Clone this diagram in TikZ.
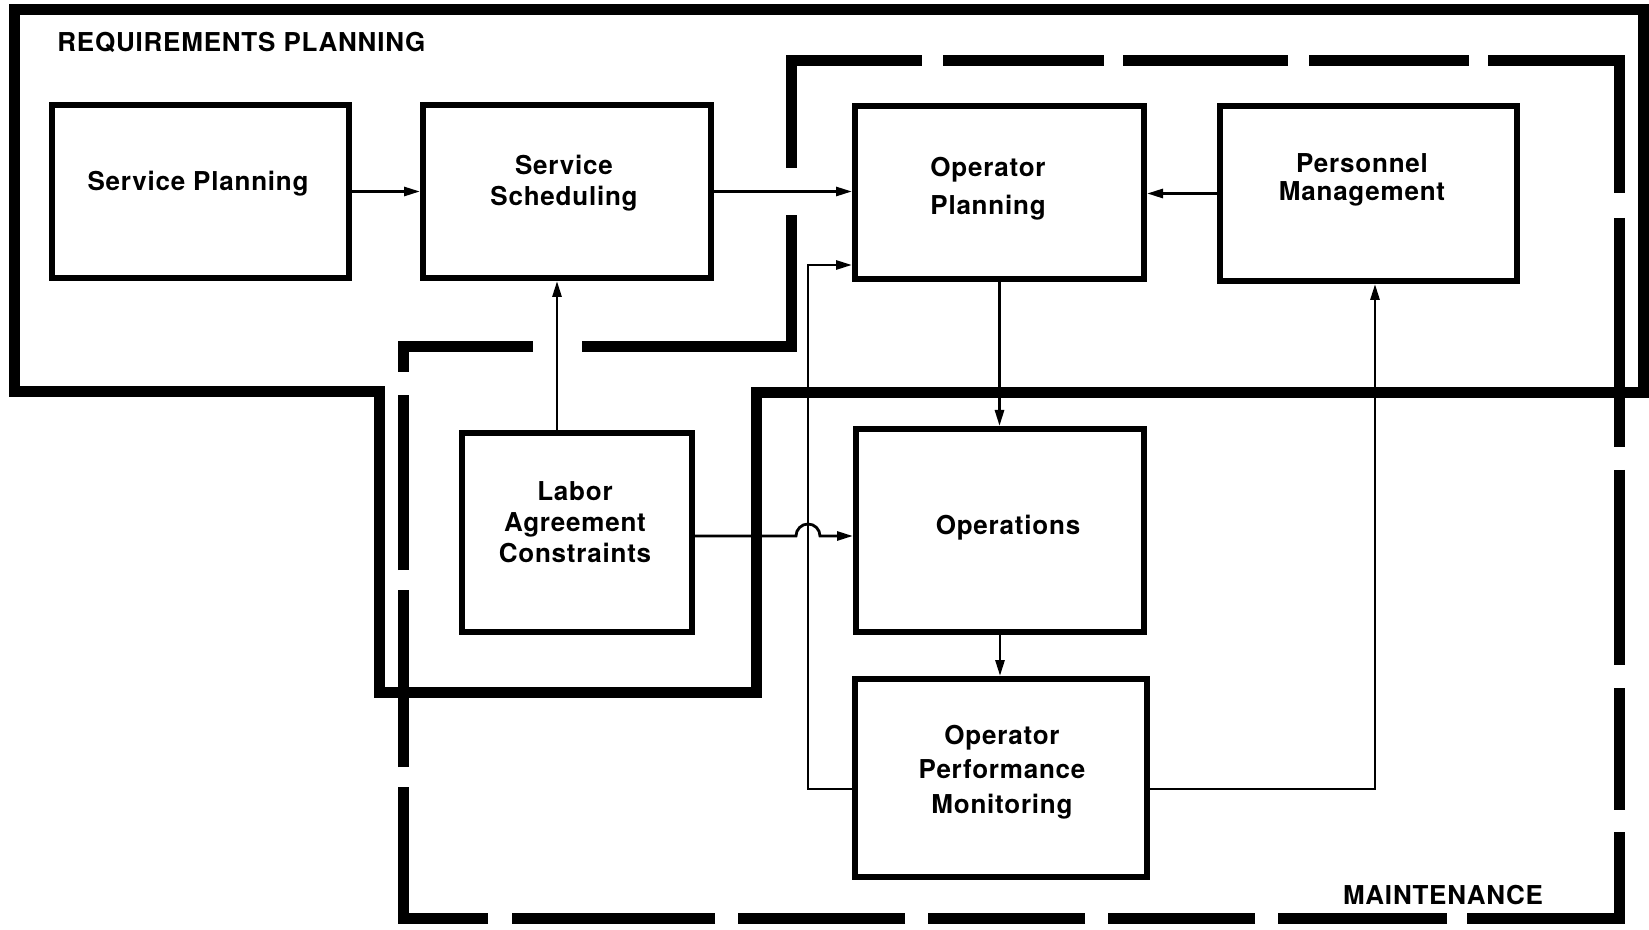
\documentclass[tikz,border=0pt]{standalone}
\usepackage{fontspec}
\setmainfont{TeX Gyre Heros}[LetterSpace=3]
\usetikzlibrary{arrows.meta}

\begin{document}
\begin{tikzpicture}[
    x=0.5pt,
    y=-0.5pt,
    box/.style={draw, line width=3pt, inner sep=0pt},
    txt/.style={font=\bfseries\fontsize{13}{15.5}\selectfont, align=center, inner sep=0pt},
    conn/.style={line width=1.4pt, -{Triangle[length=8pt,width=4.5pt]}},
    reqline/.style={line width=5.5pt, line join=miter},
    maint/.style={line width=5.5pt, line join=miter},
]

\useasboundingbox (0,0) rectangle (1649,930);

% Requirements planning boundary
\draw[reqline] (14,10) -- (1643,10) -- (1643,393) -- (756,393) -- (756,692)
    -- (379,692) -- (379,392) -- (14,392) -- cycle;

% Maintenance boundary (dashes laid by hand)
\draw[maint] (791,168) -- (791,61) -- (922,61);
\foreach \a/\b in {943/1104, 1123/1288, 1309/1469}
    \draw[maint] (\a,61) -- (\b,61);
\draw[maint] (1488,61) -- (1619,61) -- (1619,193);
\foreach \a/\b in {218/447, 470/665, 688/810}
    \draw[maint] (1619,\a) -- (1619,\b);
\draw[maint] (1619,832) -- (1619,918) -- (1467,918);
\foreach \a/\b in {1447/1278, 1255/1108, 1085/928, 905/738, 715/512}
    \draw[maint] (\a,918) -- (\b,918);
\draw[maint] (488,918) -- (403,918) -- (403,787);
\foreach \a/\b in {767/590, 570/395}
    \draw[maint] (403,\a) -- (403,\b);
\draw[maint] (403,372) -- (403,347) -- (533,347);
\draw[maint] (582,347) -- (791,347) -- (791,215);

% Region titles
\node[txt, anchor=west] (reqtitle) at (57,42) {REQUIREMENTS PLANNING};
\node[txt] (mainttitle) at (1443,895) {MAINTENANCE};

% Boxes
\node[box, minimum width=148.5pt, minimum height=86.5pt] (splan) at (200.5,191.5) {};
\node[box, minimum width=144pt, minimum height=86.5pt] (ssched) at (567,191.5) {};
\node[box, minimum width=144.5pt, minimum height=86.5pt] (opplan) at (999.5,192.5) {};
\node[box, minimum width=148.5pt, minimum height=87.5pt] (persmgmt) at (1368.5,193.5) {};
\node[box, minimum width=115pt, minimum height=99.5pt] (labor) at (577,532.5) {};
\node[box, minimum width=144pt, minimum height=101.5pt] (ops) at (1000,530.5) {};
\node[box, minimum width=146pt, minimum height=99pt] (opmon) at (1001,778) {};

% Box texts
\node[txt] (splan-t) at (198,184) {Service Planning};
\node[txt] (ssched-t) at (564,183.5) {Service\\Scheduling};
\node[txt] (opplan-t) at (988,189) {Operator\\[3.5pt]Planning};
\node[txt] (persmgmt-t) at (1362,180) {Personnel\\[-1.25pt]Management};
\node[txt] (labor-t) at (575,522) {Labor\\Agreement\\Constraints};
\node[txt] (ops-t) at (1008,528) {Operations};
\node[txt] (opmon-t) at (1002,772) {Operator\\[1.75pt]Performance\\[1.75pt]Monitoring};

% Helper points
\coordinate (fbx) at (808,0);
\coordinate (labout) at ([yshift=-1.75pt]labor.east);
\coordinate (labup) at ([xshift=-10pt]labor.north);
\coordinate (jmp) at (fbx |- labout);
\coordinate (opin) at ([yshift=8.5pt]opplan.south west);

% Flows
\draw[conn] (splan.east) -- (splan.east -| ssched.west);
\draw[conn] (ssched.east) -- (ssched.east -| opplan.west);
\draw[conn] (persmgmt.west) -- (persmgmt.west -| opplan.east);
\draw[conn] (labup) -- (labup |- ssched.south);
\draw[conn] (opplan.south) -- (opplan.south |- ops.north);
\draw[conn] (ops.south) -- (ops.south |- opmon.north);

% Labor constraints hop over the feedback line
\draw[conn] (labout) -- ([xshift=-6pt]jmp) arc[start angle=180, end angle=0, radius=6pt]
    -- (labout -| ops.west);

% Feedback
\draw[conn] ([yshift=-5.5pt]opmon.west) -| (fbx |- opin) -- (opin);
\draw[conn] ([yshift=-5.5pt]opmon.east) -| ([xshift=3.25pt]persmgmt.south);

\end{tikzpicture}
\end{document}
